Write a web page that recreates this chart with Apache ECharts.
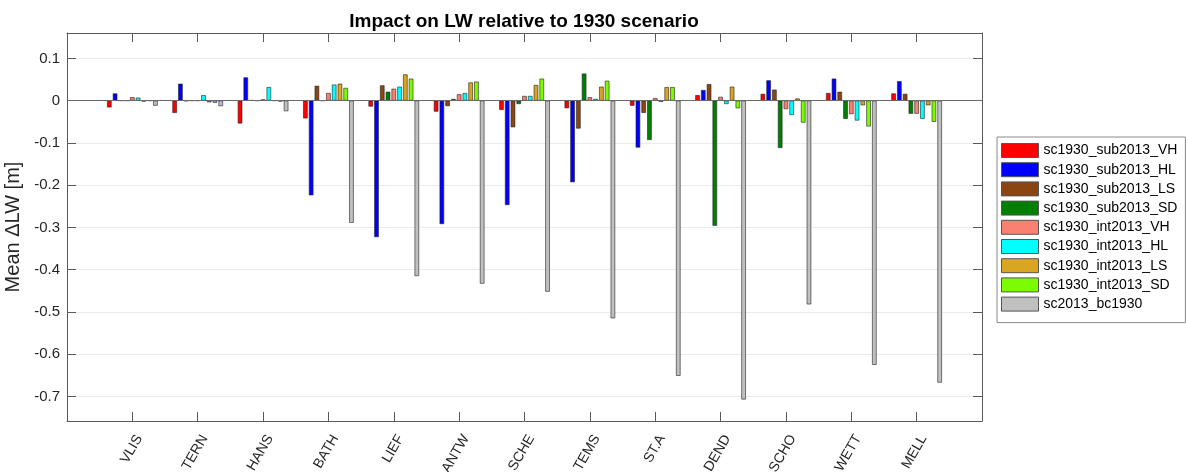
<!DOCTYPE html>
<html>
<head>
<meta charset="utf-8">
<script src="https://cdn.jsdelivr.net/npm/echarts@6/dist/echarts.min.js"></script>
<style>
  html, body { margin: 0; padding: 0; background: #fff; }
  #chart { width: 1186px; height: 472px; }
</style>
</head>
<body>
<div id="chart"></div>
<script>
// Stations along the estuary
const stations = ['VLIS', 'TERN', 'HANS', 'BATH', 'LIEF', 'ANTW', 'SCHE', 'TEMS', 'ST.A', 'DEND', 'SCHO', 'WETT', 'MELL'];

// Scenario names and their bar colours
const scenarioNames = ['sc1930_sub2013_VH', 'sc1930_sub2013_HL', 'sc1930_sub2013_LS', 'sc1930_sub2013_SD',
                       'sc1930_int2013_VH', 'sc1930_int2013_HL', 'sc1930_int2013_LS', 'sc1930_int2013_SD',
                       'sc2013_bc1930'];
const scenarioColors = ['#FF0000', '#0000FF', '#8B4513', '#007F00', '#FA8072', '#00FFFF', '#DAA520', '#7CFC00', '#C0C0C0'];

// Mean change in low water [m] per station
const sc1930_sub2013_VH = [-0.016, -0.029, -0.054, -0.042, -0.014, -0.026, -0.022, -0.018, -0.012, 0.013, 0.016, 0.018, 0.017];
const sc1930_sub2013_HL = [0.017, 0.040, 0.055, -0.224, -0.323, -0.292, -0.247, -0.193, -0.111, 0.025, 0.048, 0.052, 0.046];
const sc1930_sub2013_LS = [0.000, -0.001, 0.001, 0.035, 0.036, -0.013, -0.063, -0.066, -0.029, 0.039, 0.026, 0.021, 0.016];
const sc1930_sub2013_SD = [0.000, 0.000, 0.000, 0.000, 0.021, 0.004, -0.008, 0.064, -0.093, -0.296, -0.112, -0.043, -0.031];
const sc1930_int2013_VH = [0.008, 0.000, 0.003, 0.018, 0.028, 0.015, 0.011, 0.008, 0.006, 0.009, -0.020, -0.032, -0.031];
const sc1930_int2013_HL = [0.007, 0.013, 0.032, 0.038, 0.033, 0.018, 0.011, 0.004, -0.003, -0.008, -0.034, -0.047, -0.043];
const sc1930_int2013_LS = [-0.002, -0.004, 0.000, 0.040, 0.062, 0.043, 0.037, 0.033, 0.032, 0.033, 0.005, -0.011, -0.011];
const sc1930_int2013_SD = [0.000, -0.005, -0.002, 0.030, 0.052, 0.045, 0.052, 0.047, 0.032, -0.018, -0.052, -0.061, -0.050];
const sc2013_bc1930     = [-0.012, -0.013, -0.025, -0.289, -0.415, -0.433, -0.452, -0.515, -0.651, -0.707, -0.482, -0.625, -0.667];

// Y tick values
const yTicks = [-0.7, -0.6, -0.5, -0.4, -0.3, -0.2, -0.1, 0, 0.1];

const scenarioValues = [sc1930_sub2013_VH, sc1930_sub2013_HL, sc1930_sub2013_LS, sc1930_sub2013_SD,
                        sc1930_int2013_VH, sc1930_int2013_HL, sc1930_int2013_LS, sc1930_int2013_SD,
                        sc2013_bc1930];

// The x range runs from 0 to 14 with stations at 1..13, so pad with empty slots at both ends
const xCategories = [''].concat(stations, ['']);
const padded = arr => ['-'].concat(arr, ['-']);

const FONT = '"Liberation Sans", Arial, Helvetica, sans-serif';
const AXIS_COLOR = '#5a5a5a';
const TEXT_COLOR = '#262626';
const Y_MIN = -0.758;
const Y_MAX = 0.16;

const chart = echarts.init(document.getElementById('chart'), null, { renderer: 'canvas' });

const series = scenarioNames.map((name, i) => ({
  name: name,
  type: 'bar',
  xAxisIndex: 0,
  yAxisIndex: 0,
  data: padded(scenarioValues[i]),
  barWidth: 4.5,
  barGap: '28%',
  itemStyle: { color: scenarioColors[i], borderColor: '#222', borderWidth: 0.6 },
  emphasis: { disabled: true },
  animation: false
}));

// Bar baseline at zero
series[0].markLine = {
  silent: true,
  symbol: 'none',
  label: { show: false },
  lineStyle: { color: '#6a6a6a', width: 1, type: 'solid' },
  data: [{ yAxis: 0 }],
  animation: false
};

const option = {
  animation: false,
  backgroundColor: '#fff',
  textStyle: { fontFamily: FONT },
  title: {
    text: 'Impact on LW relative to 1930 scenario',
    left: 519,
    top: 7,
    textAlign: 'center',
    textStyle: { fontSize: 19, fontWeight: 'bold', color: '#000', fontFamily: FONT }
  },
  legend: {
    data: scenarioNames,
    orient: 'vertical',
    left: 997,
    top: 137,
    icon: 'rect',
    itemWidth: 37,
    itemHeight: 14,
    itemGap: 4.2,
    padding: [6, 8, 11, 4],
    borderColor: '#8a8a8a',
    borderWidth: 1,
    backgroundColor: '#fff',
    itemStyle: { borderColor: '#555', borderWidth: 1 },
    textStyle: { fontSize: 14, color: '#000', fontFamily: FONT }
  },
  grid: { left: 67, right: 204, top: 33, bottom: 51, containLabel: false, outerBoundsMode: 'none' },
  xAxis: [
    {
      type: 'category',
      data: xCategories,
      boundaryGap: false,
      axisLine: { show: true, onZero: false, lineStyle: { color: AXIS_COLOR, width: 1 } },
      axisTick: { show: true, inside: true, length: 9, interval: 0, lineStyle: { color: AXIS_COLOR } },
      axisLabel: {
        interval: 0, rotate: 60, margin: 11,
        verticalAlign: 'top', lineHeight: 16,
        fontSize: 14, color: TEXT_COLOR, fontFamily: FONT
      },
      splitLine: { show: false }
    },
    {
      type: 'category',
      data: xCategories,
      position: 'top',
      boundaryGap: false,
      axisLine: { show: true, onZero: false, lineStyle: { color: AXIS_COLOR, width: 1 } },
      axisTick: { show: true, inside: true, length: 9, interval: 0, lineStyle: { color: AXIS_COLOR } },
      axisLabel: { show: true, interval: 0, formatter: () => '' },
      splitLine: { show: false }
    }
  ],
  yAxis: [
    {
      type: 'value',
      min: Y_MIN,
      max: Y_MAX,
      name: 'Mean \u0394LW [m]',
      nameLocation: 'middle',
      nameGap: 38,
      nameTextStyle: { fontSize: 20, color: TEXT_COLOR, fontFamily: FONT },
      axisLine: { show: true, onZero: false, lineStyle: { color: AXIS_COLOR, width: 1 } },
      axisTick: { show: true, inside: true, length: 9, customValues: yTicks, lineStyle: { color: AXIS_COLOR } },
      axisLabel: {
        customValues: yTicks,
        margin: 7,
        fontSize: 15,
        color: TEXT_COLOR,
        fontFamily: FONT,
        formatter: v => (Math.abs(v) < 1e-9 ? '0' : v.toFixed(1))
      },
      splitLine: { show: true, lineStyle: { color: '#ebebeb', width: 1 } }
    },
    {
      type: 'value',
      position: 'right',
      min: Y_MIN,
      max: Y_MAX,
      axisLine: { show: true, onZero: false, lineStyle: { color: AXIS_COLOR, width: 1 } },
      axisTick: { show: true, inside: true, length: 9, customValues: yTicks, lineStyle: { color: AXIS_COLOR } },
      axisLabel: { show: true, customValues: yTicks, formatter: () => '' },
      splitLine: { show: false }
    }
  ],
  series: series
};

chart.setOption(option);
</script>
</body>
</html>
